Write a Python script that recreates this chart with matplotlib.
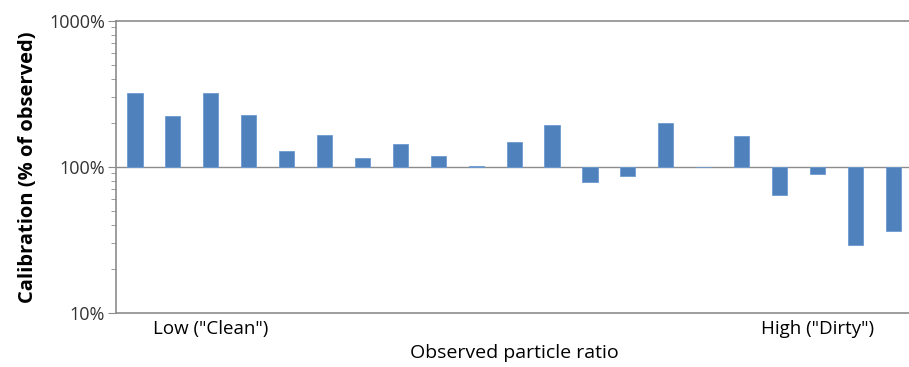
import numpy as np
import matplotlib
matplotlib.use("Agg")
import matplotlib.pyplot as plt
from matplotlib.ticker import FixedLocator, FuncFormatter, NullFormatter

BLUE = "#4F81BD"; GREY = "#8c8c8c"

# calibration, % of observed, ordered from clean to dirty
calib = [320, 222, 320, 226, 128, 165, 115, 142, 118, 102, 147,
         192, 78.5, 86.8, 198, 99.3, 162, 64, 89.5, 29.4, 36.6]
xlabels = {2: 'Low ("Clean")', 18: 'High ("Dirty")'}
yticks = [10, 100, 1000]

plt.rcParams['font.family'] = ['Open Sans', 'DejaVu Sans']
fig = plt.figure(figsize=(9.09, 3.67), dpi=100)
ax = fig.add_axes([0.1276, 0.1471, 0.876, 0.797])

x = np.arange(len(calib))
h = np.array(calib) - 100
ax.bar(x, h, bottom=100, width=0.4, color=BLUE, edgecolor="#6f9bd1", lw=0.6, zorder=3)
ax.axhline(100, color=GREY, lw=1.0, zorder=2)

ax.set_yscale("log")
ax.set_ylim(10, 1000)
ax.set_xlim(-0.5, len(calib) - 0.5)
ax.yaxis.set_major_locator(FixedLocator(yticks))
ax.yaxis.set_major_formatter(FuncFormatter(lambda v, p: f"{v:.0f}%"))
ax.yaxis.set_minor_formatter(NullFormatter())
ax.tick_params(axis="y", which="major", length=6, color=GREY, labelsize=13, labelcolor="#333333", pad=2)
ax.tick_params(axis="y", which="minor", length=3.5, color=GREY)
ax.set_xticks(list(xlabels.keys()))
ax.set_xticklabels(list(xlabels.values()), fontsize=13.5)
ax.tick_params(axis="x", length=0, pad=5)

for s in ["left", "top", "bottom"]:
    ax.spines[s].set_color(GREY); ax.spines[s].set_linewidth(1.2)
ax.spines["right"].set_visible(False)

ax.set_xlabel("Observed particle ratio", fontsize=14, labelpad=4)
ax.set_ylabel("Calibration (% of observed)", fontsize=14.5, fontweight="bold", labelpad=8)

fig.savefig("out.png", dpi=100, facecolor="white")
